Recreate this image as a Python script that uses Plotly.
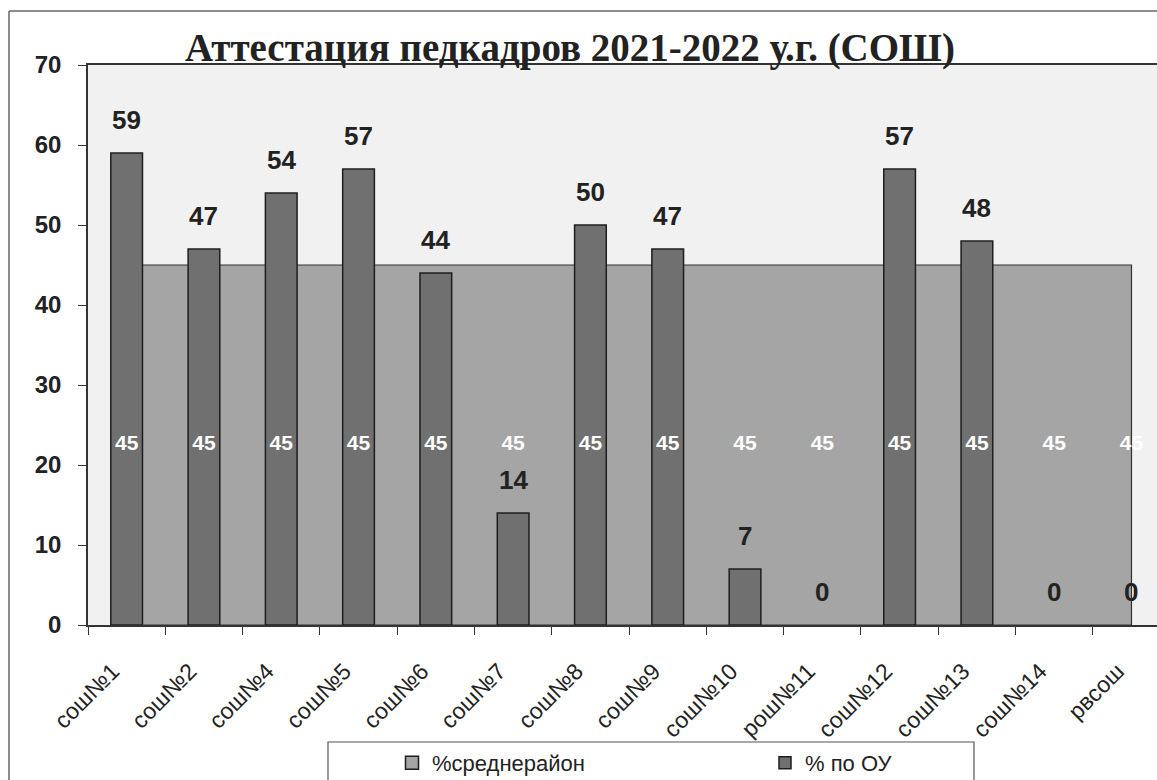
import plotly.graph_objects as go

categories = ["сош№1", "сош№2", "сош№4", "сош№5", "сош№6", "сош№7", "сош№8",
              "сош№9", "сош№10", "рош№11", "сош№12", "сош№13", "сош№14", "рвсош"]
avg_district = [45] * 14
school_values = [59, 47, 54, 57, 44, 14, 50, 47, 7, 0, 57, 48, 0, 0]
y_ticks = [0, 10, 20, 30, 40, 50, 60, 70]

W, H = 1157, 780
ML, MR, MT, MB = 88, 0, 65, 155
PW = W - ML - MR
PH = H - MT - MB
XRANGE = [-0.5, 13.33]
YRANGE = [0, 70]

AREA_COLOR = "#a5a5a5"
BAR_COLOR = "#707070"
EDGE = "#1e1e1e"


def px_x(px):
    return (px - ML) / PW


def px_y(py):
    return (H - MB - py) / PH


fig = go.Figure()

# district average drawn as an area from the first to the last category centre
fig.add_trace(go.Scatter(
    x=categories + [categories[-1], categories[0]],
    y=avg_district + [0, 0],
    fill="toself", mode="lines",
    fillcolor=AREA_COLOR,
    line=dict(color="#333333", width=1.2),
    name="%среднерайон",
    showlegend=False,
    hoverinfo="skip",
    xaxis="x", yaxis="y",
))
# legend entry for the area series (square swatch like the original)
fig.add_trace(go.Scatter(
    x=[None], y=[None], mode="markers",
    marker=dict(symbol="square", size=13, color=AREA_COLOR, line=dict(color=EDGE, width=1.5)),
    name="%среднерайон",
    xaxis="x", yaxis="y",
))

fig.add_trace(go.Bar(
    x=categories, y=school_values,
    width=0.41,
    marker=dict(color=BAR_COLOR,
                line=dict(color=EDGE, width=[1.5 if v else 0 for v in school_values])),
    name="% по ОУ",
    xaxis="x2", yaxis="y2",
))

# white labels of the average series
fig.add_trace(go.Scatter(
    x=categories, y=[v / 2 for v in avg_district],
    mode="text", text=[str(v) for v in avg_district],
    textposition="middle center",
    textfont=dict(family="Liberation Sans, Arial", size=21, color="white", weight="bold"),
    showlegend=False, hoverinfo="skip",
    xaxis="x2", yaxis="y2",
))

for c, v in zip(categories, school_values):
    fig.add_annotation(
        x=c, y=v, xref="x2", yref="y2", text=str(v), showarrow=False,
        yanchor="bottom", yshift=16,
        font=dict(family="Liberation Sans, Arial", size=26, color="#222222", weight="bold"),
    )

# outer chart frame (left and top edges)
fig.add_shape(type="line", xref="paper", yref="paper",
              x0=px_x(9), x1=px_x(9), y0=px_y(11), y1=px_y(790),
              line=dict(color="#666666", width=1.5))
fig.add_shape(type="line", xref="paper", yref="paper",
              x0=px_x(9), x1=px_x(1170), y0=px_y(11), y1=px_y(11),
              line=dict(color="#666666", width=1.5))
# legend frame
fig.add_shape(type="rect", xref="paper", yref="paper",
              x0=px_x(328), x1=px_x(974), y0=px_y(742), y1=px_y(800),
              line=dict(color="#555555", width=1.2), fillcolor="white")

fig.update_layout(
    width=W, height=H,
    margin=dict(l=ML, r=MR, t=MT, b=MB, autoexpand=False),
    paper_bgcolor="white",
    plot_bgcolor="#f1f1f1",
    title=dict(
        text="<b>Аттестация педкадров 2021-2022 у.г. (СОШ)</b>",
        x=570 / W, xref="container", xanchor="center",
        y=1 - 47 / H, yref="container", yanchor="middle",
        font=dict(family="Liberation Serif, Times New Roman", size=39, color="#222222"),
    ),
    showlegend=True,
    legend=dict(
        orientation="h",
        xref="container", yref="container",
        x=392 / W, y=1 - 742 / H, xanchor="left", yanchor="top",
        bgcolor="rgba(0,0,0,0)", borderwidth=0,
        font=dict(family="Liberation Sans, Arial", size=22, color="#222222"),
        entrywidth=328, entrywidthmode="pixels",
        traceorder="normal",
    ),
    bargap=0.59,
    xaxis=dict(
        type="category",
        categoryorder="array", categoryarray=categories,
        range=XRANGE,
        tickson="boundaries",
        ticks="outside", ticklen=8, tickcolor="#333333",
        showline=True, linecolor="#333333", linewidth=1.5, mirror=True,
        showgrid=False, automargin=False,
        tickangle=-45, ticklabelstandoff=22, ticklabelshift=-14,
        tickfont=dict(family="Liberation Sans, Arial", size=23, color="#222222"),
    ),
    yaxis=dict(
        range=YRANGE,
        tickvals=y_ticks,
        ticks="outside", ticklen=8, tickcolor="#333333",
        showline=True, linecolor="#333333", linewidth=1.5,
        showgrid=False, zeroline=False, automargin=False,
        ticklabelstandoff=12,
        tickfont=dict(family="Liberation Sans, Arial", size=24, color="#222222", weight="bold"),
    ),
    xaxis2=dict(
        type="category", overlaying="x", matches=None,
        categoryorder="array", categoryarray=categories,
        range=XRANGE, visible=False, automargin=False,
    ),
    yaxis2=dict(
        overlaying="y", range=YRANGE, visible=False, automargin=False,
    ),
)

fig.write_html("out.html", config={"displayModeBar": False},
               post_script="document.body.style.margin='0';")
